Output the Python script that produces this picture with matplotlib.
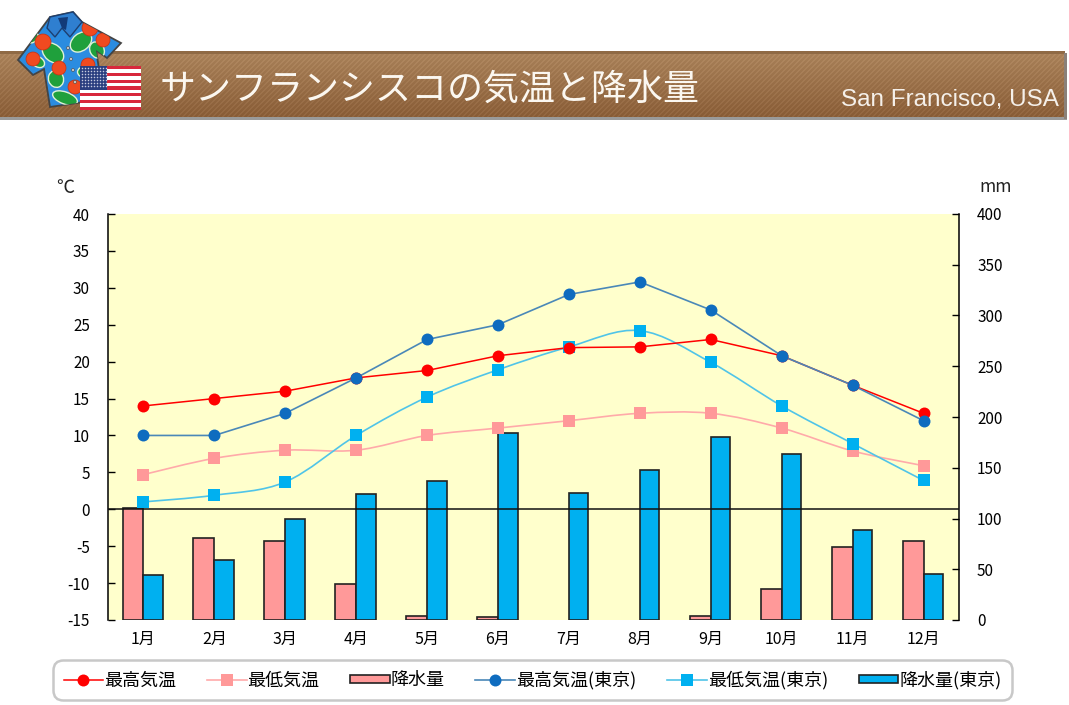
import numpy as np
import matplotlib
matplotlib.use("Agg")
import matplotlib.pyplot as plt
from matplotlib.path import Path
from matplotlib.patches import PathPatch, Polygon, Circle, Ellipse, Rectangle
from matplotlib.lines import Line2D

plt.rcParams['font.family'] = ['Noto Sans CJK JP', 'DejaVu Sans']
plt.rcParams['axes.unicode_minus'] = False

W, H = 1069, 705

months = ['1月', '2月', '3月', '4月', '5月', '6月', '7月', '8月', '9月', '10月', '11月', '12月']
high_sf = [14, 15, 16, 17.8, 18.8, 20.8, 21.9, 22, 23, 20.8, 16.8, 13]
low_sf = [4.7, 6.9, 8, 8, 10, 11, 12, 13, 13, 11, 7.9, 5.9]
rain_sf = [110, 81, 78, 35, 4, 3, 0, 0, 4, 31, 72, 78]
high_tokyo = [10, 10, 13, 17.8, 23, 25, 29.1, 30.8, 27, 20.8, 16.8, 12]
low_tokyo = [1, 1.9, 3.7, 10, 15.2, 18.9, 22, 24.2, 19.9, 14, 8.9, 3.9]
rain_tokyo = [44, 59, 100, 124, 137, 184, 125, 148, 180, 164, 89, 45]

temp_ticks = list(range(-15, 45, 5))
rain_ticks = list(range(0, 450, 50))

C_HIGH = '#ff0000'
C_LOW = '#ff9999'
C_HIGH_T = '#0f6cbf'
C_LOW_T = '#00b0f0'
L_HIGH_T = '#4a88b8'
L_LOW_T = '#50c4e8'
L_LOW = '#ffaaaa'
C_BG = '#ffffcc'
MS_ROUND = 8.6
MS_SQUARE = 8


def px_rect(x0, y0, x1, y1):
    return [x0 / W, 1 - y1 / H, (x1 - x0) / W, (y1 - y0) / H]


def smooth_path(xs, ys):
    # same kind of curve excel draws for a smoothed line
    xs = np.asarray(xs, float)
    ys = np.asarray(ys, float)
    verts = [(xs[0], ys[0])]
    codes = [Path.MOVETO]
    n = len(xs)
    for i in range(n - 1):
        a = max(i - 1, 0)
        b = min(i + 2, n - 1)
        verts.append((xs[i] + (xs[i + 1] - xs[a]) / 6, ys[i] + (ys[i + 1] - ys[a]) / 6))
        verts.append((xs[i + 1] - (xs[b] - xs[i]) / 6, ys[i + 1] - (ys[b] - ys[i]) / 6))
        verts.append((xs[i + 1], ys[i + 1]))
        codes += [Path.CURVE4] * 3
    return Path(verts, codes)


fig = plt.figure(figsize=(W / 100, H / 100), dpi=100, facecolor='white')

# header
bg = fig.add_axes([0, 0, 1, 1], zorder=0)
bg.set_xlim(0, W)
bg.set_ylim(H, 0)
bg.axis('off')

yy, xx = np.mgrid[0:64, 0:1065]
shade = np.linspace(0, 1, 64)[:, None]
top = np.array([168, 128, 88])
bot = np.array([136, 92, 54])
img = top[None, None, :] * (1 - shade[..., None]) + bot[None, None, :] * shade[..., None]
stripes = ((xx + yy) % 5 < 2)[..., None] * 10.0
img = np.clip(img + stripes, 0, 255).astype(np.uint8)
bg.imshow(img, extent=(0, 1065, 117, 53), aspect='auto', interpolation='bilinear', zorder=1)
bg.set_xlim(0, W)
bg.set_ylim(H, 0)
bg.add_patch(Rectangle((0, 50.5), 1065, 3.5, fc='#8f6a45', ec='none', zorder=2))
bg.add_patch(Rectangle((0, 117), 1067, 3, fc='#9a9a9a', ec='none', zorder=2))
bg.add_patch(Rectangle((1064, 53), 3, 66, fc='#8a8078', ec='none', zorder=2))

# shirt icon
shirt = [(50, 17), (73, 12), (82, 22), (121, 43), (107, 58), (96, 50), (100, 75), (97, 100),
         (50, 107), (44, 69), (33, 75), (18, 60)]
shirt_patch = Polygon(shirt, closed=True, fc='#2b8ce0', ec='#444444', lw=1.3, zorder=3)
bg.add_patch(shirt_patch)
for (lx, ly, lw_, lh, ang) in [(53, 53, 24, 17, 40), (81, 42, 24, 17, -40), (97, 50, 17, 14, 60),
                               (56, 79, 17, 15, 70), (65, 98, 26, 12, 20), (38, 62, 14, 10, 30),
                               (85, 72, 15, 11, 0), (33, 38, 12, 8, -40)]:
    leaf = Ellipse((lx, ly), lw_, lh, angle=ang, fc='#1fa03c', ec='#dff2d8', lw=1, zorder=4)
    bg.add_patch(leaf)
    leaf.set_clip_path(shirt_patch)
for (fx, fy, r) in [(43, 42, 8), (90, 28, 8), (103, 40, 7), (33, 59, 7), (59, 68, 7), (88, 65, 7), (75, 87, 7)]:
    flower = Circle((fx, fy), r, fc='#f04a20', ec='#c83010', lw=0.5, zorder=5)
    bg.add_patch(flower)
    flower.set_clip_path(shirt_patch)
for (bx, by) in [(68, 48), (71, 59), (73, 70), (75, 82)]:
    bg.add_patch(Circle((bx, by), 1.5, fc='#c8c8c8', ec='#444444', lw=0.4, zorder=6))
bg.add_patch(Polygon([(50, 17), (73, 12), (82, 22), (70, 37), (62, 28), (55, 37), (47, 28)],
                     closed=True, fc='#2f7fd0', ec='#1d3f70', lw=1, zorder=6))
bg.add_patch(Polygon([(58, 18), (68, 17), (66, 30), (62, 28)], closed=True, fc='#123a78', ec='none', zorder=7))

# flag
flag_x0, flag_x1, flag_y0, flag_y1 = 80, 141, 66, 110
stripe_h = (flag_y1 - flag_y0) / 13
bg.add_patch(Rectangle((flag_x0, flag_y0), flag_x1 - flag_x0, flag_y1 - flag_y0, fc='white', ec='none', zorder=8))
for i in range(0, 13, 2):
    bg.add_patch(Rectangle((flag_x0, flag_y0 + i * stripe_h), flag_x1 - flag_x0, stripe_h,
                           fc='#d8283c', ec='none', zorder=9))
bg.add_patch(Rectangle((flag_x0, flag_y0), 27, 7 * stripe_h, fc='#2b3f80', ec='none', zorder=10))
sx, sy = np.meshgrid(np.arange(flag_x0 + 2, flag_x0 + 27, 3), np.arange(flag_y0 + 2, flag_y0 + 23, 3))
bg.scatter(sx.ravel(), sy.ravel(), s=1.2, c='#c8cce0', linewidths=0, zorder=11)

bg.text(160, 90, 'サンフランシスコの気温と降水量', fontsize=25.9, color='#fbf7f0', va='center', ha='left', zorder=12)
bg.text(1059, 100, 'San Francisco, USA', fontsize=17.5, color='#f5f0ea', family='Liberation Sans',
        va='center', ha='right', zorder=12)

# chart
ax = fig.add_axes(px_rect(108, 214, 959, 620), zorder=2)
x = np.arange(len(months))
ax.set_xlim(-0.5, 11.5)
ax.set_ylim(-15, 40)
ax.set_yticks(temp_ticks)
ax.set_xticks(x)
ax.set_xticklabels(months, fontsize=11.5)
ax.tick_params(axis='x', length=0, pad=8)
ax.tick_params(axis='y', direction='in', length=5, width=1, labelsize=11, pad=13)
ax.spines['top'].set_visible(False)
ax.spines['bottom'].set_visible(False)
ax.spines['right'].set_visible(False)
ax.spines['left'].set_linewidth(1.1)

ax2 = ax.twinx()
ax2.set_ylim(0, 400)
ax2.set_yticks(rain_ticks)
ax2.tick_params(axis='y', direction='in', length=5, width=1, labelsize=11, pad=13)
ax2.spines['top'].set_visible(False)
ax2.spines['bottom'].set_visible(False)
ax2.spines['left'].set_visible(False)
ax2.spines['right'].set_linewidth(1.1)
ax2.set_zorder(ax.get_zorder() - 1)
ax2.set_facecolor(C_BG)
ax2.patch.set_visible(True)
ax.patch.set_visible(False)

bar_w = 0.295
rain_sf_arr = np.array(rain_sf)
rain_tokyo_arr = np.array(rain_tokyo)
wet = rain_sf_arr > 0  # no outline for the dry months
ax2.bar(x[wet] - bar_w / 2, rain_sf_arr[wet], bar_w, color=C_LOW, edgecolor='#222222', linewidth=1.2, zorder=2)
ax2.bar(x + bar_w / 2 - 0.01, rain_tokyo_arr, bar_w - 0.02, color=C_LOW_T, edgecolor='#222222', linewidth=1.2, zorder=3)

ax.axhline(0, color='#111111', lw=1.1, zorder=3)

ax.add_patch(PathPatch(smooth_path(x, low_sf), fc='none', ec=L_LOW, lw=1.2, zorder=4))
ax.plot(x, low_sf, ls='none', marker='s', ms=MS_SQUARE, color=C_LOW, mew=0, zorder=5)
ax.add_patch(PathPatch(smooth_path(x, low_tokyo), fc='none', ec=L_LOW_T, lw=1.2, zorder=4))
ax.plot(x, low_tokyo, ls='none', marker='s', ms=MS_SQUARE, color=C_LOW_T, mew=0, zorder=5)
ax.plot(x, high_sf, color=C_HIGH, lw=1.1, zorder=4)
ax.plot(x, high_sf, ls='none', marker='o', ms=MS_ROUND, color=C_HIGH, mew=0, zorder=6)
ax.plot(x, high_tokyo, color=L_HIGH_T, lw=1.2, zorder=4)
ax.plot(x, high_tokyo, ls='none', marker='o', ms=MS_ROUND, color=C_HIGH_T, mew=0, zorder=6)

bg.text(65, 188, '℃', fontsize=13, ha='center', va='center', color='#222222', zorder=12)
bg.text(996, 187, 'mm', fontsize=12.5, ha='center', va='center', color='#222222', zorder=12)

# legend
handles = [
    Line2D([], [], color=C_HIGH, lw=1.1, marker='o', ms=MS_ROUND, mew=0),
    Line2D([], [], color=L_LOW, lw=1.2, marker='s', ms=MS_SQUARE, mew=0, mfc=C_LOW),
    Rectangle((0, 0), 1, 1, fc=C_LOW, ec='#222222', lw=1.2),
    Line2D([], [], color=L_HIGH_T, lw=1.2, marker='o', ms=MS_ROUND, mew=0, mfc=C_HIGH_T),
    Line2D([], [], color=L_LOW_T, lw=1.2, marker='s', ms=MS_SQUARE, mew=0, mfc=C_LOW_T),
    Rectangle((0, 0), 1, 1, fc=C_LOW_T, ec='#222222', lw=1.2),
]
labels = ['最高気温', '最低気温', '降水量', '最高気温(東京)', '最低気温(東京)', '降水量(東京)']
leg = fig.legend(handles, labels, ncol=6, loc='center', bbox_to_anchor=(532.5 / W, 1 - 680 / H),
                 fontsize=13, frameon=True, fancybox=True, edgecolor='#c8c8c8', facecolor='white',
                 handlelength=2.2, handletextpad=0.05, columnspacing=1.7, handleheight=0.3,
                 borderpad=0.6, borderaxespad=0, framealpha=1)
leg.get_frame().set_linewidth(1.8)
leg.get_frame().set_boxstyle('round', pad=0, rounding_size=0.55)

fig.savefig('out.png', dpi=100)
